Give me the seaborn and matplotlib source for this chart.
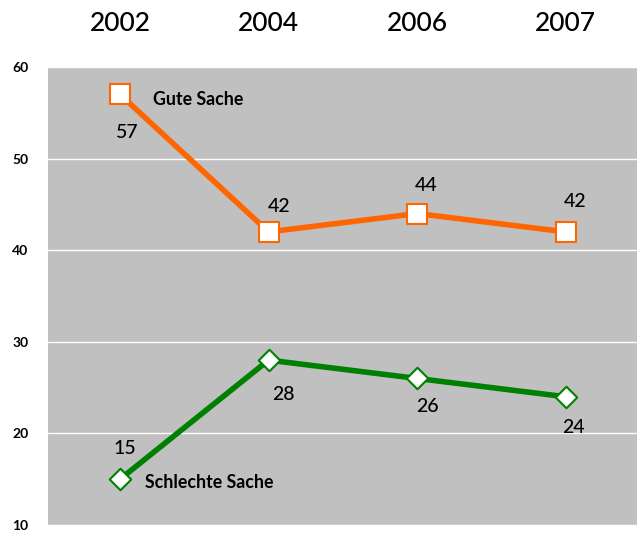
import matplotlib
matplotlib.use("Agg")
import matplotlib.pyplot as plt
import seaborn as sns
import pandas as pd

years = ["2002", "2004", "2006", "2007"]
gute = [57, 42, 44, 42]
schlechte = [15, 28, 26, 24]
series_names = ["Gute Sache", "Schlechte Sache"]

sns.set_theme(style="white")
plt.rcParams['font.family'] = ['Lato', 'DejaVu Sans']
plt.rcParams['text.color'] = 'black'
plt.rcParams['xtick.color'] = 'black'
plt.rcParams['ytick.color'] = 'black'

df = pd.DataFrame({
    "Jahr": years * 2,
    "Wert": gute + schlechte,
    "Reihe": [series_names[0]] * 4 + [series_names[1]] * 4,
})

fig = plt.figure(figsize=(6.37, 5.36), dpi=100)
ax = fig.add_axes([48 / 637, 11 / 536, 589 / 637, 458 / 536])
ax.set_facecolor("#c0c0c0")

colors = {"Gute Sache": "#ff6600", "Schlechte Sache": "#008000"}
sns.lineplot(data=df, x="Jahr", y="Wert", hue="Reihe", palette=colors,
             linewidth=4, legend=False, ax=ax, sort=False)

# markers
ax.scatter(range(4), gute, marker="s", s=190, facecolor="white",
           edgecolor="#ff6600", linewidth=1.5, zorder=5)
ax.scatter(range(4), schlechte, marker="D", s=120, facecolor="white",
           edgecolor="#008000", linewidth=1.5, zorder=5)

ax.set_xlim(-0.485, 3.48)
ax.set_ylim(10, 60)
ax.set_yticks([10, 20, 30, 40, 50, 60])
ax.grid(axis="y", color="white", linewidth=1)
ax.set_axisbelow(True)
for s in ax.spines.values():
    s.set_visible(False)
ax.set_xlabel("")
ax.set_ylabel("")
ax.tick_params(axis="y", length=0, pad=14, labelsize=10)
for t in ax.get_yticklabels():
    t.set_fontweight("bold")

ax.xaxis.tick_top()
ax.set_xticks(range(4))
ax.set_xticklabels(years, fontsize=19, fontweight="medium")
ax.tick_params(axis="x", length=0, pad=22)

# value labels
off_g = [(0.05, -4.2), (0.07, 2.8), (0.06, 3.1), (0.06, 3.3)]
for i, v in enumerate(gute):
    ax.text(i + off_g[i][0], v + off_g[i][1], str(v), ha="center",
            va="center", fontsize=14, fontweight="medium")
off_s = [(0.03, 3.4), (0.1, -3.7), (0.07, -3.1), (0.05, -3.4)]
for i, v in enumerate(schlechte):
    ax.text(i + off_s[i][0], v + off_s[i][1], str(v), ha="center",
            va="center", fontsize=14, fontweight="medium")

ax.text(0.22, 56.5, series_names[0], fontsize=12.8, fontweight="bold",
        ha="left", va="center")
ax.text(0.17, 14.6, series_names[1], fontsize=12.8, fontweight="bold",
        ha="left", va="center")

fig.savefig("out.png", dpi=100)
